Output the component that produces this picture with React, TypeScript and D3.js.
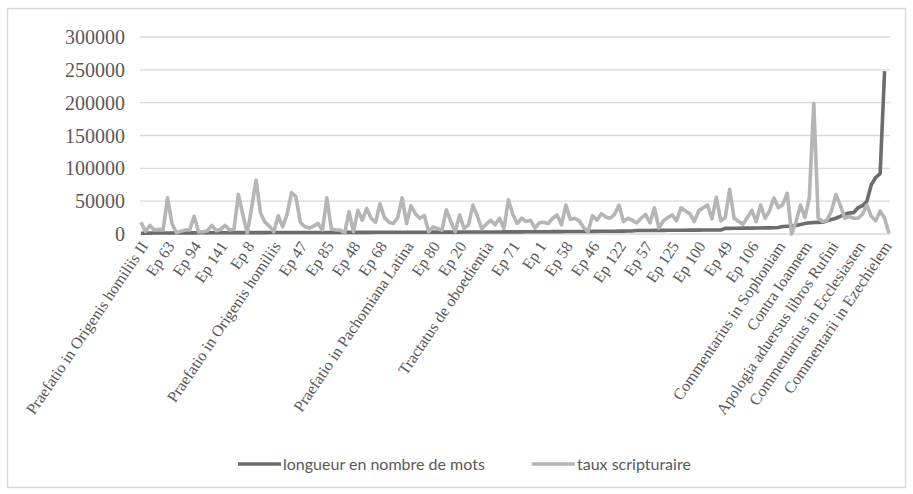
import React from 'react';
import * as d3 from 'd3';

// every 6th category is labelled on the axis
const tickLabels = [
  'Praefatio in Origenis homiliis II', 'Ep 63', 'Ep 94', 'Ep 141', 'Ep 8',
  'Praefatio in Origenis homiliis', 'Ep 47', 'Ep 85', 'Ep 48', 'Ep 68',
  'Praefatio in Pachomiana Latina', 'Ep 80', 'Ep 20', 'Tractatus de oboedientia',
  'Ep 71', 'Ep 1', 'Ep 58', 'Ep 46', 'Ep 122', 'Ep 57', 'Ep 125', 'Ep 100',
  'Ep 49', 'Ep 106', 'Commentarius in Sophoniam', 'Contra Ioannem',
  'Apologia aduersus libros Rufini', 'Commentarius in Ecclesiasten',
  'Commentarii in Ezechielem',
];
const labelStep = 6;

const yTicks = [0, 50000, 100000, 150000, 200000, 250000, 300000];

// longueur en nombre de mots (sorted ascending), last category empty
const longueur: (number | null)[] = [
  1200, 1290, 1350, 1410, 1440, 1500, 1560, 1590, 1650, 1700,
  1720, 1760, 1780, 1800, 1840, 1850, 1880, 1910, 1920, 1950,
  1970, 2000, 2030, 2050, 2070, 2090, 2120, 2130, 2150, 2180,
  2190, 2200, 2220, 2240, 2260, 2270, 2290, 2310, 2320, 2340,
  2350, 2370, 2390, 2400, 2410, 2430, 2450, 2470, 2480, 2500,
  2510, 2530, 2540, 2560, 2580, 2600, 2620, 2630, 2650, 2670,
  2690, 2700, 2720, 2740, 2760, 2780, 2800, 2820, 2840, 2860,
  2880, 2900, 2930, 2950, 2970, 3000, 3020, 3050, 3080, 3100,
  3130, 3160, 3190, 3220, 3250, 3280, 3310, 3350, 3380, 3420,
  3450, 3490, 3530, 3570, 3610, 3650, 3700, 3740, 3790, 3840,
  3890, 3940, 4000, 4050, 4110, 4170, 4230, 4300, 4370, 4440,
  4510, 4590, 5300, 5350, 5400, 5430, 5480, 5520, 5570, 5600,
  5650, 5700, 5740, 5800, 5850, 5900, 5950, 6000, 6050, 6100,
  6150, 6200, 8500, 8600, 8700, 8800, 8900, 8950, 9000, 9100,
  9200, 9300, 9400, 9500, 9800, 11500, 11800, 12000, 13000, 14500,
  16000, 17000, 17500, 17700, 18000, 20000, 22000, 24000, 27000, 30000,
  32000, 32500, 40000, 43000, 50000, 75000, 86000, 92000, 248000, null,
];

// taux scripturaire
const taux = [
  18000, 4000, 13000, 6000, 7000, 6000, 55000, 16000, 2000, 4000,
  6000, 6000, 27000, 3500, 3500, 5000, 13000, 5000, 7000, 13000,
  6000, 7000, 60000, 30000, 1000, 40000, 82000, 32000, 18000, 12000,
  3000, 28000, 11000, 30000, 63000, 57000, 18000, 11000, 9000, 12000,
  16000, 6000, 55000, 8000, 6000, 6000, 1000, 34000, 3500, 36000,
  21000, 39000, 24000, 18000, 46000, 25000, 18000, 16000, 25000, 55000,
  16000, 43000, 31000, 24000, 28000, 3500, 11000, 8000, 6000, 37000,
  19000, 3500, 29000, 8500, 14000, 44000, 27000, 8000, 15000, 21000,
  14000, 24000, 8500, 52000, 30000, 16000, 24000, 19000, 21000, 9000,
  17000, 18000, 16000, 24000, 29000, 14000, 44000, 22000, 24000, 20000,
  10000, 3500, 28000, 21000, 31000, 26000, 24000, 30000, 44000, 19000,
  24000, 21000, 17000, 24000, 30000, 17000, 40000, 9000, 20000, 25000,
  29000, 20000, 40000, 35000, 31000, 19000, 35000, 40000, 44000, 23000,
  56000, 20000, 25000, 68000, 24000, 19000, 15000, 25000, 36000, 19000,
  44000, 24000, 35000, 55000, 40000, 45000, 62000, 0, 19000, 44000,
  25000, 55000, 199000, 24000, 19000, 21000, 35000, 60000, 44000, 24000,
  27000, 24000, 24000, 30000, 44000, 27000, 20000, 35000, 24000, 1000,
];

const series = [
  { name: 'longueur en nombre de mots', values: longueur, color: '#6b6c6e' },
  { name: 'taux scripturaire', values: taux, color: '#b4b5b7' },
];

const W = 913;
const H = 494;

export default function App() {
  const x = d3.scaleLinear().domain([0, taux.length - 1]).range([141, 889]);
  const y = d3.scaleLinear().domain([0, 300000]).range([234, 37]);

  const line = d3
    .line<number | null>()
    .defined((d) => d !== null)
    .x((_, i) => x(i))
    .y((d) => y(d as number));

  const legendX = [238, 532];

  return (
    <svg
      width={W}
      height={H}
      style={{ position: 'absolute', left: 0, top: 0, background: '#fff' }}
    >
      <rect x={7.5} y={8.5} width={898} height={479} fill="#fff" stroke="#d9d9d9" strokeWidth={1.5} />

      {/* grid */}
      {yTicks.map((t) => (
        <g key={t}>
          <line x1={140} x2={890} y1={y(t)} y2={y(t)} stroke="#d9d9d9" strokeWidth={1.4} />
          <text
            x={125}
            y={y(t)}
            dy="0.35em"
            textAnchor="end"
            fontFamily="'Liberation Serif', serif"
            fontSize={20}
            fill="#595959"
          >
            {t}
          </text>
        </g>
      ))}

      {/* series */}
      {series.map((s) => (
        <path
          key={s.name}
          d={line(s.values) || ''}
          fill="none"
          stroke={s.color}
          strokeWidth={3.6}
          strokeLinejoin="round"
        />
      ))}

      {/* category labels */}
      {tickLabels.map((lab, k) => {
        const px = x(k * labelStep) + 3;
        return (
          <text
            key={k}
            transform={`translate(${px},243) rotate(-56)`}
            dy="0.35em"
            textAnchor="end"
            fontFamily="'Liberation Serif', serif"
            fontSize={16}
            fill="#595959"
          >
            {lab}
          </text>
        );
      })}

      {/* legend */}
      {series.map((s, i) => (
        <g key={s.name} transform={`translate(${legendX[i]},464)`}>
          <line x1={0} x2={43} y1={0} y2={0} stroke={s.color} strokeWidth={3.6} />
          <text
            x={45}
            y={0}
            dy="0.35em"
            fontFamily="Lato, 'Liberation Sans', sans-serif"
            fontSize={16}
            fill="#595959"
          >
            {s.name}
          </text>
        </g>
      ))}
    </svg>
  );
}
